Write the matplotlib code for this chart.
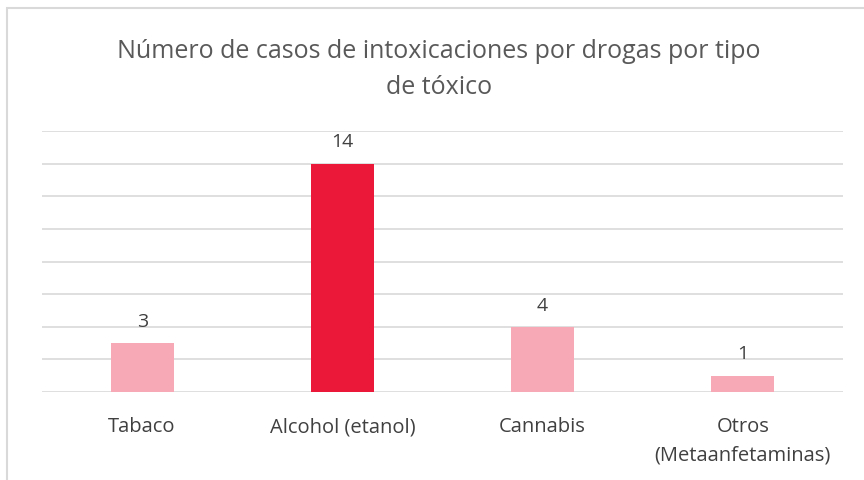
import matplotlib.pyplot as plt
from matplotlib.patches import Rectangle

categories = ['Tabaco', 'Alcohol (etanol)', 'Cannabis', 'Otros\n(Metaanfetaminas)']
values = [3, 14, 4, 1]
colors = ['#F7A9B5', '#EC1839', '#F7A9B5', '#F7A9B5']


def main():
    plt.rcParams['font.family'] = ['Open Sans', 'DejaVu Sans']
    fig = plt.figure(figsize=(8.64, 4.8), dpi=100)
    ax = fig.add_axes([42 / 864, 88 / 480, 801 / 864, 261 / 480])

    # outer chart border (cut off at right and bottom like the reference)
    fig.patches.append(Rectangle((7 / 864, -0.1), 1.1, 1 - 8 / 480 + 0.1,
                                 transform=fig.transFigure, fill=False,
                                 edgecolor='#d9d9d9', linewidth=1.5))

    x = range(len(categories))
    bars = ax.bar(x, values, width=0.315, color=colors, zorder=3)
    for b, v in zip(bars, values):
        ax.text(b.get_x() + b.get_width() / 2, v + 0.75, str(v),
                ha='center', va='bottom', fontsize=14, color='#404040')

    ax.set_xlim(-0.5, 3.5)
    ax.set_ylim(0, 16)
    ax.set_yticks(range(0, 17, 2))
    ax.set_yticklabels([])
    ax.tick_params(axis='y', length=0)
    ax.tick_params(axis='x', length=0, pad=18, labelsize=14.5, labelcolor='#404040')
    ax.set_xticks(list(x))
    ax.set_xticklabels(categories, linespacing=1.6)
    ax.grid(axis='y', color='#d9d9d9', linewidth=1.2, zorder=0)
    for s in ax.spines.values():
        s.set_visible(False)

    fig.text(0.508, 0.855, 'Número de casos de intoxicaciones por drogas por tipo\nde tóxico',
             ha='center', va='center', fontsize=18, color='#595959', linespacing=1.55)

    fig.savefig('out.png', dpi=100)


if __name__ == "__main__":
    main()
